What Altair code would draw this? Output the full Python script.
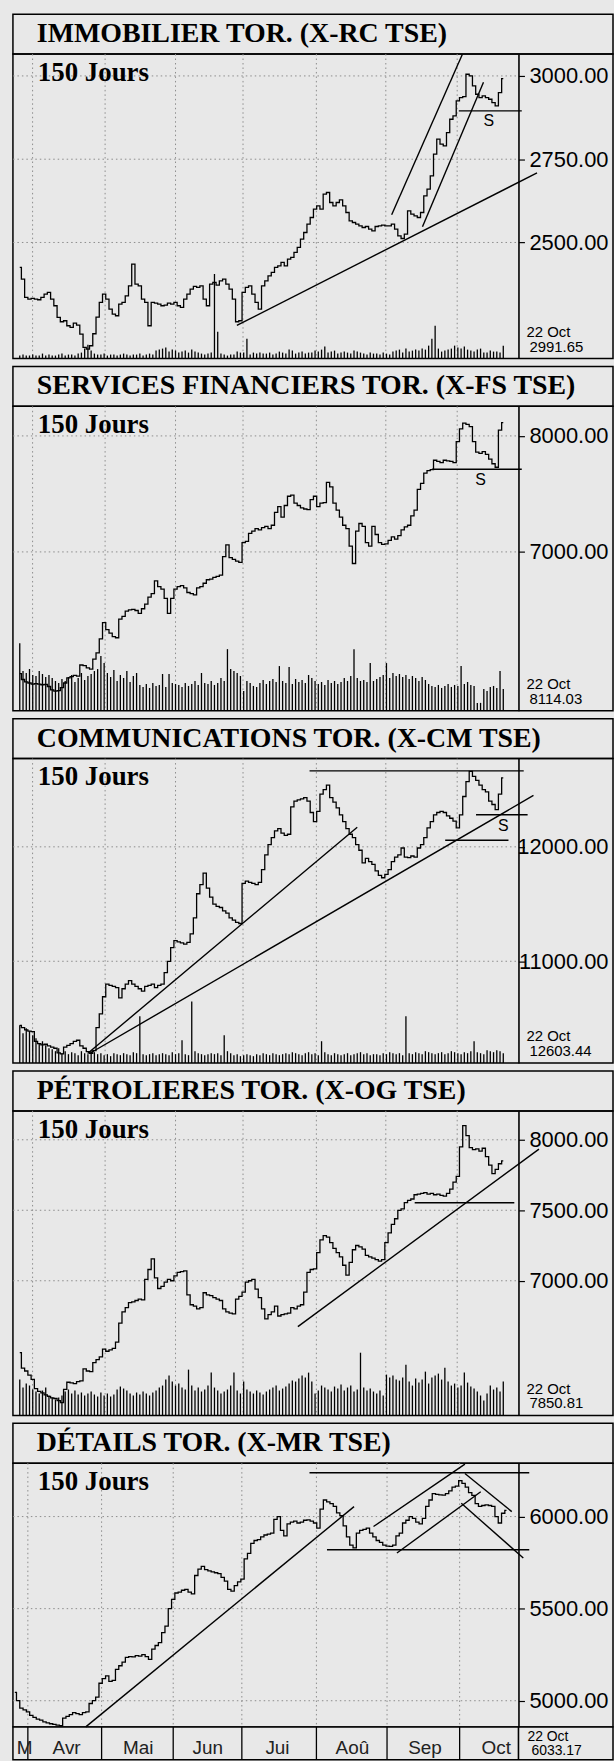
import altair as alt
import pandas as pd

# ---------------- shared x (trading-day index, 0 .. 149 = 22 Oct) ----------------
X_DOMAIN = [-0.57, 181.28]
month_bounds = [3.95, 26.3, 48.0, 68.8, 91.4, 112.8, 134.8]
month_names = ["M", "Avr", "Mai", "Jun", "Jui", "Aoû", "Sep", "Oct"]
month_centers = [3.0, 15.7, 37.4, 58.5, 79.6, 102.3, 124.3, 145.9]

titles = [
    "IMMOBILIER TOR. (X-RC TSE)",
    "SERVICES FINANCIERS TOR. (X-FS TSE)",
    "COMMUNICATIONS TOR. (X-CM TSE)",
    "PÉTROLIERES TOR. (X-OG TSE)",
    "DÉTAILS TOR. (X-MR TSE)",
]
last_values = ["2991.65", "8114.03", "12603.44", "7850.81", "6033.17"]

# ---------------- panel 1 : IMMOBILIER ----------------
p1 = [2425, 2390, 2335, 2330, 2332, 2330, 2328, 2335, 2345, 2350,
      2330, 2310, 2275, 2262, 2265, 2250, 2245, 2258, 2252, 2225,
      2185, 2180, 2190, 2226, 2276, 2320, 2345, 2330, 2300, 2285,
      2280, 2315, 2320, 2340, 2370, 2435, 2375, 2370, 2330, 2320,
      2250, 2320, 2318, 2315, 2310, 2312, 2318, 2315, 2320, 2310,
      2305, 2330, 2345, 2360, 2368, 2365, 2370, 2330, 2310, 2375,
      2380, 2372, 2385, 2390, 2375, 2360, 2330, 2262, 2265, 2350,
      2365, 2370, 2345, 2320, 2300, 2370, 2385, 2400, 2410, 2425,
      2430, 2440, 2430, 2450, 2455, 2470, 2485, 2510, 2530, 2555,
      2575, 2600, 2610, 2600, 2645, 2650, 2620, 2610, 2620, 2628,
      2610, 2590, 2565, 2560, 2555, 2550, 2545, 2548, 2540, 2535,
      2548, 2550, 2552, 2550, 2550, 2555, 2540, 2520, 2512, 2525,
      2595, 2585, 2580, 2575, 2590, 2640, 2660, 2700, 2765, 2810,
      2795, 2790, 2830, 2870, 2880, 2925, 2935, 2938, 3005, 3000,
      2970, 2945, 2935, 2940, 2935, 2930, 2920, 2910, 2950, 2991.65]
v1 = [3, 4, 3, 3, 4, 3, 3, 5, 3, 4,
      3, 3, 4, 5, 3, 4, 4, 3, 5, 6,
      10, 14, 8, 5, 4, 4, 5, 3, 4, 4,
      3, 4, 5, 4, 3, 4, 4, 5, 3, 4,
      5, 4, 8, 9, 10, 11, 7, 9, 8, 6,
      7, 8, 6, 9, 7, 6, 5, 4, 5, 6,
      85, 27, 5, 4, 3, 4, 4, 7, 6, 6,
      20, 4, 6, 5, 6, 5, 5, 6, 4, 5,
      7, 6, 5, 9, 8, 5, 6, 7, 5, 6,
      6, 8, 7, 9, 12, 6, 7, 8, 5, 6,
      7, 6, 5, 8, 7, 6, 5, 4, 6, 5,
      5, 4, 6, 5, 4, 7, 8, 9, 6, 10,
      7, 8, 9, 8, 10, 9, 13, 20, 33, 10,
      7, 8, 9, 10, 13, 11, 10, 12, 9, 8,
      7, 9, 10, 6, 6, 8, 7, 7, 6, 13]
y1_dom = [2151.5, 3065.7]
ticks1 = [2500, 2750, 3000]
tr1_x1 = [66.9, 114.6, 124.1, 135.3]
tr1_y1 = [2251, 2583, 2547, 2895]
tr1_x2 = [159.4, 136.4, 142.9, 154.7]
tr1_y2 = [2709, 3065, 2981, 2895]
s1 = (144.5, 2866)

# ---------------- panel 2 : SERVICES FINANCIERS ----------------
p2 = [5950, 5900, 5880, 5870, 5860, 5865, 5860, 5855, 5858, 5840,
      5810, 5800, 5805, 5830, 5870, 5915, 5925, 5935, 5930, 6025,
      6020, 6000, 5990, 6075, 6130, 6250, 6390, 6330, 6300, 6270,
      6260, 6420, 6445, 6490, 6500, 6505, 6495, 6470, 6510, 6550,
      6610, 6640, 6750, 6700, 6680, 6600, 6470, 6600, 6680, 6700,
      6710, 6690, 6650, 6640, 6630, 6690, 6700, 6730, 6760, 6765,
      6780, 6790, 6800, 6960, 7060, 6950, 6935, 6920, 6910, 7080,
      7090, 7160, 7180, 7200, 7190, 7210, 7220, 7200, 7230, 7340,
      7390, 7300, 7400, 7480, 7490, 7420, 7400, 7380, 7370, 7365,
      7450, 7480, 7390, 7420, 7425, 7600, 7560, 7420, 7360, 7300,
      7230, 7200, 7050, 6900, 7180, 7245, 7220, 7080, 7050, 7220,
      7150, 7080, 7065, 7070, 7100, 7130, 7110, 7140, 7190, 7215,
      7230, 7310, 7360, 7540, 7590, 7680, 7700, 7710, 7790, 7780,
      7770, 7790, 7785, 7780, 7770, 7950, 8060, 8110, 8100, 8080,
      7950, 7860, 7850, 7865, 7840, 7800, 7760, 7730, 8050, 8114.03]
v2 = [68, 40, 38, 42, 36, 35, 40, 37, 34, 36,
      33, 30, 28, 32, 30, 34, 36, 29, 33, 38,
      31, 35, 37, 40, 42, 55, 48, 38, 34, 41,
      30, 36, 33, 40, 29, 35, 38, 26, 24, 27,
      23, 28, 25, 26, 37, 24, 37, 28, 27, 26,
      24, 28, 25, 27, 30, 26, 38, 28, 27, 30,
      26, 28, 33, 30, 62, 42, 40, 38, 35, 20,
      30, 28, 25, 24, 28, 31, 27, 30, 32, 29,
      45, 30, 28, 44, 27, 32, 29, 31, 28, 36,
      33, 30, 27, 29, 26, 31, 28, 30, 27, 29,
      33, 30, 35, 62, 33, 30, 31, 29, 48, 30,
      32, 34, 36, 48, 33, 38, 35, 37, 34, 36,
      32, 35, 33, 30, 34, 31, 27, 25, 24, 26,
      23, 25, 27, 24, 26, 25, 45, 27, 29, 26,
      25, 8, 8, 22, 20, 24, 25, 23, 40, 22]
y2_dom = [5630, 8255]
ticks2 = [7000, 8000]
tr2_x1 = [127.0]
tr2_y1 = [7713]
tr2_x2 = [154.7]
tr2_y2 = [7713]
s2 = (142.0, 7617)

# ---------------- panel 3 : COMMUNICATIONS ----------------
p3 = [10440, 10420, 10400, 10390, 10385, 10300, 10280, 10270, 10275, 10260,
      10250, 10240, 10200, 10190, 10250, 10265, 10280, 10300, 10310, 10260,
      10240, 10210, 10195, 10220, 10420, 10540, 10690, 10800, 10790, 10780,
      10770, 10680, 10760, 10800, 10830, 10800, 10780, 10760, 10740, 10780,
      10790, 10800, 10770, 10790, 10800, 10900, 11000, 11120, 11180, 11170,
      11160, 11150, 11165, 11240, 11380, 11590, 11670, 11770, 11640, 11560,
      11500, 11480, 11470, 11440, 11420, 11380, 11360, 11340, 11330, 11680,
      11700, 11690, 11680, 11670, 11690, 11800, 11930, 12020, 12080, 12140,
      12160, 12120, 12100, 12110, 12350, 12400, 12410, 12420, 12430, 12400,
      12300, 12220, 12310, 12460, 12500, 12540, 12430, 12390, 12340, 12280,
      12220, 12160, 12110, 12080, 12020, 11970, 11860, 11900, 11870, 11846,
      11790, 11750, 11730, 11760, 11800, 11870, 11910, 11930, 11990, 11910,
      11905, 11920, 11910, 11990, 12020, 12080, 12165, 12220, 12280, 12300,
      12310, 12300, 12270, 12250, 12225, 12165, 12280, 12440, 12570, 12660,
      12615, 12580, 12540, 12500, 12480, 12400, 12370, 12325, 12460, 12603.44]
v3 = [38, 30, 35, 32, 28, 25, 20, 22, 18, 15,
      14, 12, 15, 10, 12, 9, 11, 10, 8, 12,
      10, 9, 12, 11, 9, 10, 8, 9, 7, 10,
      9, 8, 10, 9, 8, 11, 10, 47, 9, 8,
      9, 10, 8, 9, 10, 9, 8, 11, 9, 10,
      23, 9, 8, 62, 12, 10, 9, 8, 9, 10,
      9, 10, 8, 28, 12, 10, 8, 9, 7, 8,
      9, 8, 7, 9, 8, 10, 9, 8, 10, 9,
      8, 9, 10, 9, 11, 10, 9, 8, 10, 11,
      9, 10, 8, 22, 11, 9, 8, 10, 9, 8,
      9, 10, 8, 9, 10, 11, 9, 10, 8, 9,
      9, 8, 10, 9, 11, 10, 9, 10, 8, 47,
      10, 9, 11, 10, 9, 12, 11, 10, 9, 10,
      11, 9, 10, 12, 11, 10, 9, 11, 10, 12,
      22, 11, 10, 9, 13, 12, 11, 13, 12, 10]
y3_dom = [10110, 12771]
ticks3 = [11000, 12000]
tr3_x1 = [89.3, 20.9, 21.5, 140.6, 131.1]
tr3_y1 = [12664, 10194, 10194, 12281, 12058]
tr3_x2 = [155.3, 104.0, 158.3, 156.5, 150.6]
tr3_y2 = [12664, 12171, 12449, 12281, 12058]
s3 = (149.0, 12180)

# ---------------- panel 4 : PETROLIERES ----------------
p4 = [6490, 6380, 6360, 6330, 6300, 6235, 6215, 6205, 6190, 6180,
      6170, 6165, 6150, 6135, 6230, 6280, 6275, 6270, 6285, 6290,
      6375, 6360, 6355, 6420, 6440, 6460, 6515, 6500, 6510, 6520,
      6565, 6700, 6780, 6810, 6845, 6850, 6860, 6870, 6865, 7010,
      7080, 7155, 7020, 6945, 6960, 6990, 7010, 7000, 7035, 7060,
      7065, 7070, 6900, 6830, 6820, 6800, 6810, 6915, 6900, 6895,
      6880, 6870, 6860, 6800, 6780, 6770, 6765, 6870, 6890, 6920,
      6990, 7000, 7010, 6940, 6880, 6800, 6730, 6760, 6780, 6820,
      6750, 6760, 6765, 6770, 6810, 6800, 6820, 6830, 6920, 7060,
      7080, 7085, 7200, 7290, 7320, 7310, 7270, 7230, 7200, 7170,
      7110, 7040, 7130, 7220, 7250, 7240, 7225, 7180, 7170, 7160,
      7150, 7140, 7150, 7270, 7340, 7400, 7440, 7500, 7510, 7555,
      7570, 7580, 7610, 7615, 7620, 7625, 7615, 7620, 7610, 7615,
      7605, 7600, 7620, 7650, 7700, 7740, 7950, 8100, 8030, 7945,
      7930, 7935, 7920, 7940, 7880, 7820, 7760, 7790, 7830, 7850.81]
v4 = [36, 28, 32, 30, 26, 24, 22, 25, 28, 20,
      18, 16, 18, 20, 24, 26, 22, 25, 21, 23,
      20, 22, 24, 21, 19, 23, 20, 22, 19, 21,
      26, 29, 27, 25, 22, 20, 23, 21, 24, 22,
      20, 23, 25, 28, 30, 36, 40, 34, 30, 32,
      28, 26, 46, 30, 25, 28, 24, 26, 30, 43,
      28, 25, 22, 24, 26, 30, 43, 25, 22, 34,
      26, 24, 22, 25, 23, 21, 24, 26, 28, 30,
      25, 27, 29, 32, 35, 34, 37, 40, 38, 43,
      34, 22, 25, 30, 28, 26, 24, 29, 27, 31,
      25, 28, 30, 24, 26, 63, 28, 25, 27, 24,
      22, 25, 20, 41, 38, 40, 36, 35, 38, 51,
      34, 30, 37, 33, 36, 44, 32, 38, 40, 42,
      36, 48, 34, 30, 32, 28, 30, 43, 33, 29,
      27, 24, 20, 15, 22, 30, 26, 28, 24, 34]
y4_dom = [6045, 8205]
ticks4 = [7000, 7500, 8000]
tr4_x1 = [85.7, 121.7]
tr4_y1 = [6675, 7553]
tr4_x2 = [160.0, 152.4]
tr4_y2 = [7934, 7553]

# ---------------- panel 5 : DETAILS ----------------
p5 = [5045, 5000, 4960, 4950, 4940, 4920, 4910, 4900, 4895, 4885,
      4880, 4875, 4872, 4868, 4865, 4905, 4915, 4925, 4935, 4930,
      4925, 4935, 4940, 4985, 5000, 5020, 5095, 5120, 5135, 5105,
      5110, 5170, 5190, 5210, 5235, 5240, 5238, 5245, 5242, 5250,
      5240, 5225, 5280, 5300, 5315, 5370, 5405, 5500, 5550, 5585,
      5590, 5600, 5605, 5590, 5580, 5680, 5715, 5730, 5712, 5705,
      5700, 5695, 5690, 5670, 5650, 5605, 5595, 5625, 5645, 5660,
      5770, 5800, 5855, 5870, 5875, 5890, 5900, 5905, 5910, 5985,
      6000, 5925, 5895, 5960, 5970, 5975, 5965, 5970, 5980, 5982,
      5975, 5965, 5937, 6040, 6090, 6080, 6070, 6055, 6020, 6005,
      5950, 5890, 5845, 5830, 5910, 5925, 5930, 5937, 5910, 5890,
      5870, 5860, 5845, 5840, 5838, 5845, 5895, 5910, 5965, 5980,
      6000, 5990, 5970, 5960, 5990, 6055, 6090, 6125, 6120, 6118,
      6117, 6125, 6140, 6160, 6165, 6195, 6180, 6160, 6130, 6115,
      6070, 6055, 6060, 6063, 6060, 6055, 6000, 5965, 6018, 6033.17]
y5_dom = [4858, 6290]
ticks5 = [5000, 5500, 6000]
tr5_x1 = [21.5, 89.3, 94.6, 108.7, 115.8, 136.4, 135.3]
tr5_y1 = [4858, 6238, 5820, 5946, 5802, 6234, 6072]
tr5_x2 = [102.8, 155.9, 155.9, 136.4, 141.2, 150.6, 154.1]
tr5_y2 = [6054, 6238, 5820, 6285, 6135, 6027, 5775]

W = 603
PLOT_H = 306
P5_H = 265
GAP_H = 7.5
AXIS_PX = 508  # axis line position inside the view
BG = "#e8e8e8"


def title_chart(text):
    return alt.Chart(pd.DataFrame({"t": [text]})).mark_text(
        font="Liberation Serif", fontWeight="bold", fontSize=28,
        align="left", baseline="alphabetic", color="black"
    ).encode(text="t:N", x=alt.value(24), y=alt.value(28)).properties(width=W, height=40)


def gap_chart():
    return alt.Chart(pd.DataFrame({"t": [""]})).mark_text(opacity=0).encode(
        text="t:N", x=alt.value(0), y=alt.value(0)
    ).properties(width=W, height=GAP_H, view=alt.ViewBackground(stroke="transparent"))


def plot_chart(prices, vols, ydom, ticks, tx1, ty1, tx2, ty2, s_lbl, last_val, height):
    xs = alt.Scale(domain=X_DOMAIN, nice=False, zero=False)
    ys = alt.Scale(domain=ydom, nice=False, zero=False)
    yaxis = alt.Axis(orient="right", offset=-95, values=ticks, format=".2f",
                     labelFont="Liberation Sans", labelFontSize=22, labelColor="black",
                     labelAlign="right", labelBaseline="middle", labelPadding=84,
                     tickSize=6, tickColor="black", tickWidth=1.2,
                     domainColor="black", domainWidth=1.6, grid=False, title=None)

    df = pd.DataFrame({"d": list(range(len(prices))), "p": prices})

    vgrid = alt.Chart(pd.DataFrame({"b": month_bounds})).mark_rule(
        color="#8c8c8c", strokeDash=[1.5, 3], strokeWidth=1
    ).encode(x=alt.X("b:Q", scale=xs, axis=None), y=alt.value(0), y2=alt.value(height))

    hgrid = alt.Chart(pd.DataFrame({"v": ticks})).mark_rule(
        color="#8c8c8c", strokeDash=[1.5, 3], strokeWidth=1
    ).encode(y=alt.Y("v:Q", scale=ys, axis=yaxis), x=alt.value(0), x2=alt.value(AXIS_PX))

    price = alt.Chart(df).mark_line(color="black", strokeWidth=1.3, interpolate="step").encode(
        x=alt.X("d:Q", scale=xs, axis=None),
        y=alt.Y("p:Q", scale=ys, axis=yaxis),
    )

    tdf = pd.DataFrame({"x1": tx1, "y1": ty1, "x2": tx2, "y2": ty2})
    trend = alt.Chart(tdf).mark_rule(color="black", strokeWidth=1.4).encode(
        x=alt.X("x1:Q", scale=xs, axis=None), x2="x2:Q",
        y=alt.Y("y1:Q", scale=ys, axis=yaxis), y2="y2:Q",
    )

    jours = alt.Chart(pd.DataFrame({"t": ["150 Jours"]})).mark_text(
        font="Liberation Serif", fontWeight="bold", fontSize=27,
        align="left", baseline="alphabetic", color="black"
    ).encode(text="t:N", x=alt.value(25), y=alt.value(27))

    layers = [vgrid, hgrid, price, trend, jours]

    if s_lbl is not None:
        sdf = pd.DataFrame({"x": [s_lbl[0]], "y": [s_lbl[1]], "t": ["S"]})
        layers.append(alt.Chart(sdf).mark_text(
            font="Liberation Sans", fontSize=16, color="black", baseline="middle"
        ).encode(x=alt.X("x:Q", scale=xs, axis=None),
                 y=alt.Y("y:Q", scale=ys, axis=yaxis), text="t:N"))

    if last_val is not None:
        layers.append(alt.Chart(pd.DataFrame({"t": ["22 Oct"]})).mark_text(
            font="Liberation Sans", fontSize=15, align="left", baseline="middle", color="black"
        ).encode(text="t:N", x=alt.value(516), y=alt.value(height - 27)))
        layers.append(alt.Chart(pd.DataFrame({"t": [last_val]})).mark_text(
            font="Liberation Sans", fontSize=15, align="left", baseline="middle", color="black"
        ).encode(text="t:N", x=alt.value(519), y=alt.value(height - 12)))

    main = alt.layer(*layers)
    if vols is None:
        return main.properties(width=W, height=height)

    vdf = pd.DataFrame({"d": list(range(len(vols))), "v": vols})
    vol = alt.Chart(vdf).mark_bar(color="black", width=1.3).encode(
        x=alt.X("d:Q", scale=xs, axis=None),
        y=alt.Y("v:Q", scale=alt.Scale(domain=[0, height], nice=False), axis=None),
    )
    return alt.layer(main, vol).resolve_scale(y="independent").properties(width=W, height=height)


def month_row():
    xs = alt.Scale(domain=X_DOMAIN, nice=False, zero=False)
    sep = alt.Chart(pd.DataFrame({"b": month_bounds})).mark_rule(
        color="black", strokeWidth=1.3
    ).encode(x=alt.X("b:Q", scale=xs, axis=None), y=alt.value(0), y2=alt.value(33))
    axis_line = alt.Chart(pd.DataFrame({"t": [0]})).mark_rule(
        color="black", strokeWidth=1.6
    ).encode(x=alt.value(AXIS_PX), y=alt.value(0), y2=alt.value(33))
    lbl = alt.Chart(pd.DataFrame({"m": month_names, "c": month_centers})).mark_text(
        font="Liberation Sans", fontSize=19, baseline="middle", color="#222"
    ).encode(x=alt.X("c:Q", scale=xs, axis=None), y=alt.value(21), text="m:N")
    d1 = alt.Chart(pd.DataFrame({"t": ["22 Oct"]})).mark_text(
        font="Liberation Sans", fontSize=14, align="left", baseline="middle", color="black"
    ).encode(text="t:N", x=alt.value(517), y=alt.value(10))
    d2 = alt.Chart(pd.DataFrame({"t": [last_values[4]]})).mark_text(
        font="Liberation Sans", fontSize=14, align="left", baseline="middle", color="black"
    ).encode(text="t:N", x=alt.value(521), y=alt.value(24))
    return alt.layer(sep, axis_line, lbl, d1, d2).properties(width=W, height=33)


rows = [
    title_chart(titles[0]),
    plot_chart(p1, v1, y1_dom, ticks1, tr1_x1, tr1_y1, tr1_x2, tr1_y2, s1, last_values[0], PLOT_H),
    gap_chart(),
    title_chart(titles[1]),
    plot_chart(p2, v2, y2_dom, ticks2, tr2_x1, tr2_y1, tr2_x2, tr2_y2, s2, last_values[1], PLOT_H),
    gap_chart(),
    title_chart(titles[2]),
    plot_chart(p3, v3, y3_dom, ticks3, tr3_x1, tr3_y1, tr3_x2, tr3_y2, s3, last_values[2], PLOT_H),
    gap_chart(),
    title_chart(titles[3]),
    plot_chart(p4, v4, y4_dom, ticks4, tr4_x1, tr4_y1, tr4_x2, tr4_y2, None, last_values[3], PLOT_H),
    gap_chart(),
    title_chart(titles[4]),
    plot_chart(p5, None, y5_dom, ticks5, tr5_x1, tr5_y1, tr5_x2, tr5_y2, None, None, P5_H),
    month_row(),
]

chart = alt.vconcat(*rows, spacing=0, bounds="flush").properties(
    padding={"left": 11, "top": 9, "right": 0, "bottom": 0},
    background=BG,
).configure_view(stroke="black", strokeWidth=1.5)

chart.save("out.html", embed_options={"renderer": "svg", "actions": False})
